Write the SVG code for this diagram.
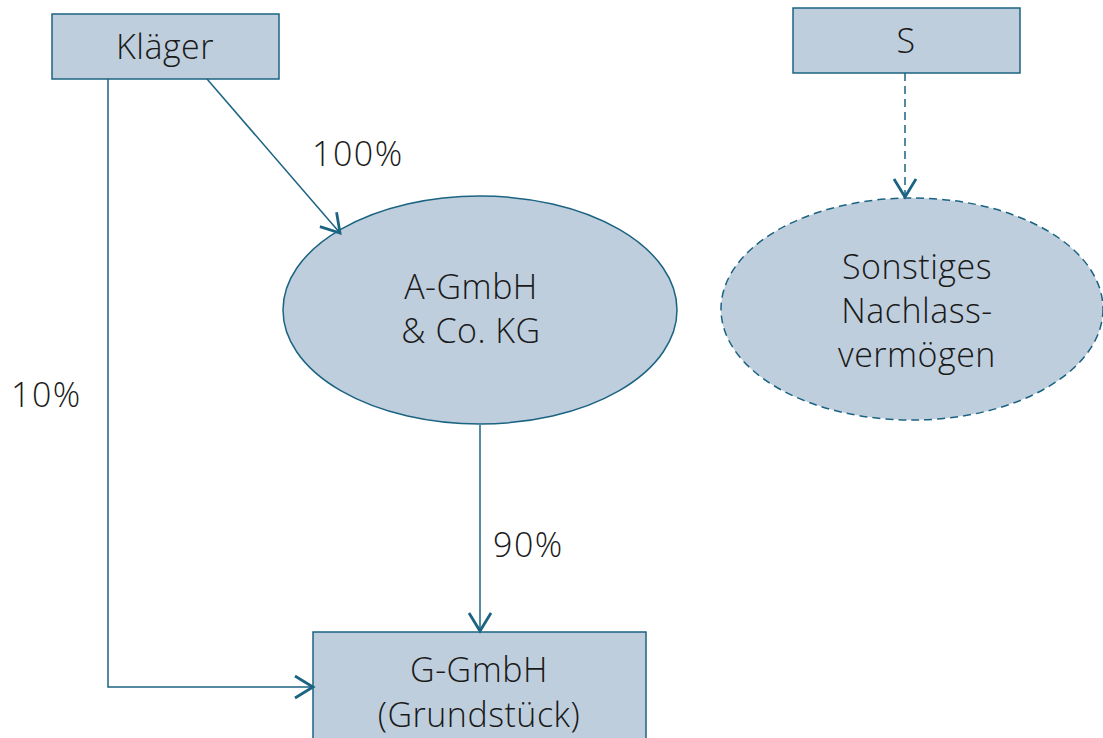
<svg xmlns="http://www.w3.org/2000/svg" width="1103" height="738" viewBox="0 0 1103 738">
<style>
.box{fill:#bfcedc;stroke:#1b6383;stroke-width:1.5}
.dash{stroke-dasharray:8 5}
.t{font-family:"Open Sans","Noto Sans",sans-serif;font-size:34px;font-weight:300;fill:#1a1a1a;text-anchor:middle;letter-spacing:0.5px}
.lbl{font-family:"Open Sans","Noto Sans",sans-serif;font-size:34px;font-weight:300;fill:#1a1a1a;letter-spacing:1.5px}
.c{fill:none;stroke:#1b6383;stroke-width:1.5}
</style>
<defs>
<marker id="ah" markerUnits="userSpaceOnUse" markerWidth="30" markerHeight="30" refX="20" refY="12" orient="auto">
<path d="M2,1 L20,12 L2,23" fill="none" stroke="#1b6383" stroke-width="2.8"/>
</marker>
</defs>
<rect width="1103" height="738" fill="#fff"/>
<g id="klaeger"><rect class="box" x="52" y="14" width="227" height="65"/><text class="t" x="165" y="59">Kläger</text></g>
<g id="s"><rect class="box" x="793" y="8" width="227" height="65"/><text class="t" x="906" y="53">S</text></g>
<g id="agmbh"><ellipse class="box" cx="480" cy="310" rx="197" ry="114"/><text class="t" x="471" y="299">A-GmbH</text><text class="t" x="471" y="343">&amp; Co. KG</text></g>
<g id="nachlass"><ellipse class="box dash" cx="912" cy="309" rx="191" ry="111"/><text class="t" x="917" y="279">Sonstiges</text><text class="t" x="917" y="323">Nachlass-</text><text class="t" x="917" y="367">vermögen</text></g>
<g id="ggmbh"><rect class="box" x="313" y="632" width="333" height="120"/><text class="t" x="479" y="682">G-GmbH</text><text class="t" x="479" y="727">(Grundstück)</text></g>
<g id="connectors">
<path class="c" d="M207,79 L340,233" marker-end="url(#ah)"/>
<path class="c" d="M108,79 L108,687 L313,687" marker-end="url(#ah)"/>
<path class="c" d="M480,425 L480,631" marker-end="url(#ah)"/>
<path class="c dash" d="M905,73 L905,197" marker-end="url(#ah)"/>
<text class="lbl" x="312" y="166">100%</text>
<text class="lbl" x="11" y="407">10%</text>
<text class="lbl" x="493" y="557">90%</text>
</g>
</svg>
